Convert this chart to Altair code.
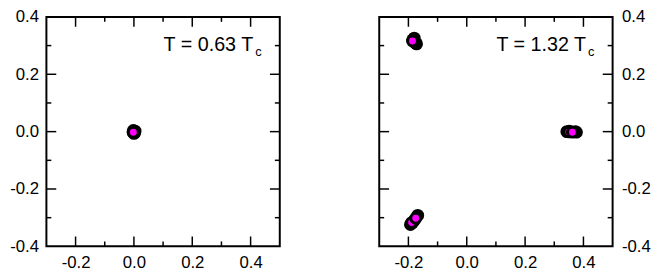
import altair as alt
import pandas as pd

# ---- axes ----
x_domain = [-0.3, 0.5]
y_domain = [-0.4, 0.4]
x_labels = [-0.2, 0.0, 0.2, 0.4]
y_labels = [-0.4, -0.2, 0.0, 0.2, 0.4]
x_major = [-0.2, 0.0, 0.2, 0.4]
x_minor = [-0.1, 0.1, 0.3]
y_major = [-0.2, 0.0, 0.2]
y_minor = [-0.3, -0.1, 0.1, 0.3]

# ---- left panel: T = 0.63 Tc ----
left_label = "T = 0.63 T"
left_trail_x = [0.004, -0.003, 0.003, -0.002, 0.002]
left_trail_y = [0.002, -0.002, -0.004, 0.004, 0.000]
left_final_x = [0.000, -0.002]
left_final_y = [-0.006, -0.002]

# ---- right panel: T = 1.32 Tc ----
right_label = "T = 1.32 T"
right_trail_x = [0.372, 0.376, 0.352, -0.180, -0.176, -0.172, -0.185, -0.193, -0.168, -0.180, -0.186]
right_trail_y = [0.000, -0.002, 0.002, 0.326, 0.309, 0.306, 0.320, -0.324, -0.292, -0.310, -0.318]
right_final_x = [0.343, 0.350, 0.362, -0.186, -0.189, -0.175]
right_final_y = [0.000, -0.001, -0.002, 0.316, -0.317, -0.302]

W, H = 237, 233
MAJOR, MINOR = 10, 5
FONT = "Liberation Sans"
MAGENTA = "#ff00ff"

xs = alt.Scale(domain=x_domain, nice=False, zero=False)
ys = alt.Scale(domain=y_domain, nice=False, zero=False)

label_expr = "datum.value < 0 ? '-' + format(-datum.value, '.1f') : format(datum.value, '.1f')"


def make_axes(y_orient):
    xaxis = alt.Axis(values=x_labels, labelExpr=label_expr, ticks=False, domain=False,
                     grid=False, labelPadding=8, labelFontSize=17, labelFont=FONT,
                     labelColor="black", orient="bottom", title=None,
                     labelFlush=False, labelOverlap=False)
    yaxis = alt.Axis(values=y_labels, labelExpr=label_expr, ticks=False, domain=False,
                     grid=False, labelPadding=8 if y_orient == "left" else 9,
                     labelFontSize=17, labelFont=FONT,
                     labelColor="black", orient=y_orient, title=None,
                     labelFlush=False, labelOverlap=False)
    return xaxis, yaxis


def tick_layer(values, axis, side, length, xaxis, yaxis):
    df = pd.DataFrame({"v": values})
    base = alt.Chart(df).mark_rule(color="black", strokeWidth=1.5)
    if axis == "x":
        enc = dict(x=alt.X("v:Q", scale=xs, axis=xaxis))
        if side == "bottom":
            enc.update(y=alt.value(H), y2=alt.value(H - length))
        else:
            enc.update(y=alt.value(0), y2=alt.value(length))
    else:
        enc = dict(y=alt.Y("v:Q", scale=ys, axis=yaxis))
        if side == "left":
            enc.update(x=alt.value(0), x2=alt.value(length))
        else:
            enc.update(x=alt.value(W), x2=alt.value(W - length))
    return base.encode(**enc)


def panel(trail_x, trail_y, final_x, final_y, label, y_orient):
    xaxis, yaxis = make_axes(y_orient)
    trail = pd.DataFrame({"x": trail_x, "y": trail_y})
    final = pd.DataFrame({"x": final_x, "y": final_y})
    black = alt.Chart(trail).mark_circle(size=169, color="black", opacity=1).encode(
        x=alt.X("x:Q", scale=xs, axis=xaxis),
        y=alt.Y("y:Q", scale=ys, axis=yaxis),
    )
    mag = alt.Chart(final).mark_point(shape="circle", filled=True, fill=MAGENTA,
                                      stroke="black", strokeWidth=3, size=100,
                                      opacity=1).encode(
        x=alt.X("x:Q", scale=xs, axis=xaxis),
        y=alt.Y("y:Q", scale=ys, axis=yaxis),
    )
    lab = pd.DataFrame({"t": [label], "s": ["c"]})
    txt = alt.Chart(lab).mark_text(align="right", baseline="alphabetic", fontSize=20,
                                   font=FONT, color="black").encode(
        x=alt.value(210), y=alt.value(35), text="t:N")
    sub = alt.Chart(lab).mark_text(align="left", baseline="alphabetic", fontSize=13,
                                   font=FONT, color="black").encode(
        x=alt.value(212), y=alt.value(40), text="s:N")
    ticks = [
        tick_layer(x_major, "x", "bottom", MAJOR, xaxis, yaxis),
        tick_layer(x_minor, "x", "bottom", MINOR, xaxis, yaxis),
        tick_layer(x_major, "x", "top", MAJOR, xaxis, yaxis),
        tick_layer(x_minor, "x", "top", MINOR, xaxis, yaxis),
        tick_layer(y_major, "y", "left", MAJOR, xaxis, yaxis),
        tick_layer(y_minor, "y", "left", MINOR, xaxis, yaxis),
        tick_layer(y_major, "y", "right", MAJOR, xaxis, yaxis),
        tick_layer(y_minor, "y", "right", MINOR, xaxis, yaxis),
    ]
    return alt.layer(black, mag, *ticks, txt, sub).properties(width=W, height=H)


left = panel(left_trail_x, left_trail_y, left_final_x, left_final_y, left_label, "left")
right = panel(right_trail_x, right_trail_y, right_final_x, right_final_y, right_label, "right")

chart = alt.hconcat(left, right, spacing=97).properties(
    padding={"left": 0, "right": 0, "top": -3, "bottom": 0}
).configure_view(stroke="black", strokeWidth=2)

chart.save("out.html", embed_options={"renderer": "svg", "actions": False})
